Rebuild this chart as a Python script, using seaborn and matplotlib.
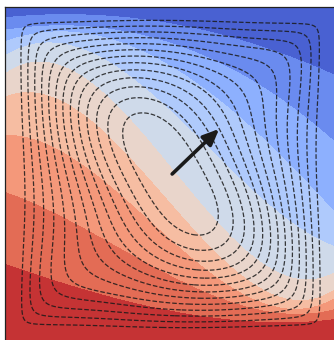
import numpy as np
import matplotlib
matplotlib.use("Agg")
import matplotlib.pyplot as plt
import seaborn as sns

# ---- data ----
# x positions (domain fraction) of the sampled columns
col_x = [0.0, 0.257, 0.514, 0.756, 1.0]
# heights (domain fraction) of the 9 colour-band boundaries in each column, top to bottom
bnd_col0 = [0.970, 0.934, 0.901, 0.856, 0.802, 0.728, 0.611, 0.443, 0.228]
bnd_col1 = [0.967, 0.925, 0.895, 0.853, 0.763, 0.668, 0.530, 0.332, 0.153]
bnd_col2 = [0.961, 0.910, 0.850, 0.692, 0.521, 0.383, 0.257, 0.177, 0.078]
bnd_col3 = [0.877, 0.757, 0.602, 0.431, 0.234, 0.174, 0.144, 0.102, 0.063]
bnd_col4 = [0.796, 0.596, 0.386, 0.284, 0.210, 0.153, 0.123, 0.093, 0.063]
band_levels = list(range(11))

# streamfunction parameters and contour levels
corner_sharpness = 3.0
gyre_tilt = 0.195
gyre_stretch = 0.097
psi_levels = list(np.round(np.linspace(0.15, 0.93, 13), 4))

# arrow (origin, tip) in domain fractions
arrow_origin = (0.505, 0.500)
arrow_tip = (0.647, 0.635)

# ---- build fields ----
n = 400
xs = np.linspace(0.0005, 0.9995, n)
ys = np.linspace(0.0005, 0.9995, n)
X, Y = np.meshgrid(xs, ys)

bnds = np.array([bnd_col0, bnd_col1, bnd_col2, bnd_col3, bnd_col4])  # (5, 9)
coefs = [np.polyfit(col_x, bnds[:, k], 3) for k in range(bnds.shape[1])]
T = np.zeros_like(X)
for i, x in enumerate(xs):
    b = np.array([np.polyval(c, x) for c in coefs])  # decreasing
    yp = np.concatenate([[0.0], b[::-1], [1.0]])
    fp = np.array(band_levels[::-1], dtype=float)
    T[:, i] = np.interp(ys, yp, fp)
T = np.clip(T, 0.001, 9.999)

m = corner_sharpness
sx = np.sin(np.pi * X)
sy = np.sin(np.pi * Y)
psi0 = (sx ** -m + sy ** -m - 1.0) ** (-1.0 / m)
W = sx * sy
psi = (psi0
       - gyre_tilt * W * np.sin(2 * np.pi * X) * np.sin(2 * np.pi * Y)
       - gyre_stretch * W * (np.cos(2 * np.pi * X) - np.cos(2 * np.pi * Y)))

# ---- plot ----
sns.set_theme(style="white")
fig = plt.figure(figsize=(3.34, 3.40), dpi=100)
ax = fig.add_axes([5 / 334, -1 / 340, 331 / 334, 334 / 340])

ax.contourf(X, Y, T, levels=band_levels, cmap="coolwarm")
ax.contour(X, Y, psi, levels=psi_levels, colors="k", linestyles="--", linewidths=0.9, alpha=0.85)

ax.annotate("", xy=arrow_tip, xytext=arrow_origin,
            arrowprops=dict(arrowstyle="-|>,head_length=0.8,head_width=0.35",
                            lw=2.6, color="#1a1a1a", shrinkA=0, shrinkB=0))

ax.set_xlim(0, 1)
ax.set_ylim(0, 1)
ax.set_xticks([])
ax.set_yticks([])
for s in ax.spines.values():
    s.set_visible(True)
    s.set_color("#222222")
    s.set_linewidth(0.9)

fig.savefig("out.png", dpi=100)
